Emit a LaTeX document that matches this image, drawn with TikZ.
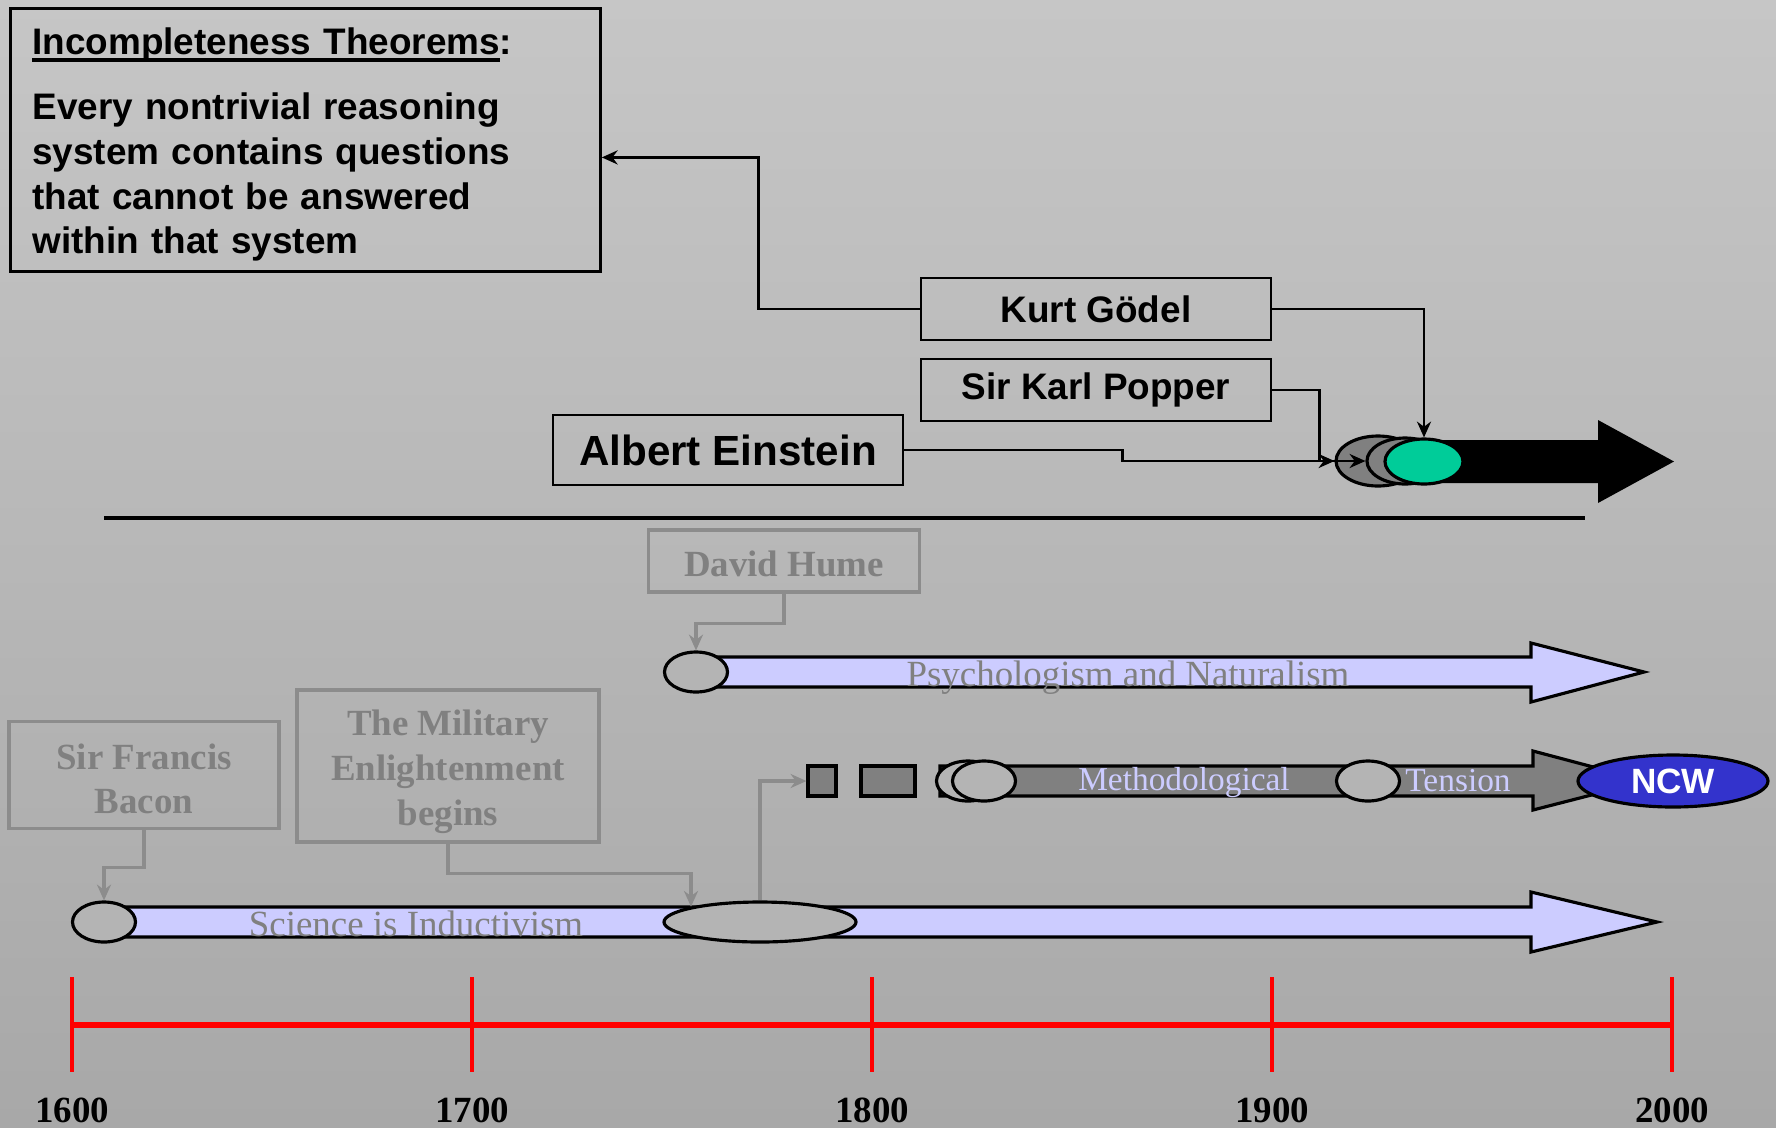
\documentclass[tikz,border=0pt]{standalone}
\usepackage{fontspec}
\setmainfont{Liberation Serif}
\setsansfont{Liberation Sans}
\usetikzlibrary{shapes.geometric,arrows.meta}
\newcommand\thmul[1]{\leavevmode\setbox0\hbox{#1}\rlap{\rule[-2.2pt]{\wd0}{1.1pt}}\box0}
\definecolor{bglight}{RGB}{198,198,198}
\definecolor{bgdark}{RGB}{168,168,168}
\definecolor{lav}{RGB}{204,204,255}
\definecolor{fade}{RGB}{128,128,128}
\definecolor{fadeline}{RGB}{140,140,140}
\definecolor{midgray}{RGB}{128,128,128}
\definecolor{blobgray}{RGB}{180,180,180}
\definecolor{mint}{RGB}{0,204,153}
\definecolor{ncwblue}{RGB}{51,51,204}
\tikzset{
  namebox/.style={draw, line width=.8pt, inner sep=0pt, minimum width=3.5cm, minimum height=.62cm,
    font=\sffamily\bfseries\fontsize{10.5}{12.7}\selectfont},
  oldbox/.style={draw=fadeline, line width=1pt, text=fade, align=center, inner sep=0pt,
    font=\bfseries\fontsize{10.5}{12.7}\selectfont},
  blob/.style={ellipse, draw, line width=.9pt, fill=blobgray, inner sep=0pt,
    minimum width=.63cm, minimum height=.4cm},
  link/.style={line width=.7pt, -{Stealth[length=4.5pt,width=4pt]}},
  oldlink/.style={link, draw=fadeline, line width=.9pt},
  bar/.style={draw, line width=.9pt, line join=miter},
}
\begin{document}
\begin{tikzpicture}[x=.1mm, y=-.1mm]
  \shade[top color=bglight, bottom color=bgdark] (0,0) rectangle (1776,1127);
  \useasboundingbox (0,0) rectangle (1776,1127);

  % the theorem
  \node[draw, line width=.8pt, anchor=north west, minimum height=2.63cm, text width=5.46cm,
    inner xsep=.22cm, inner ysep=0pt, align=left, font=\sffamily\bfseries\fontsize{10.5}{12.7}\selectfont]
    (theorem) at (9,7)
    {\rule{0pt}{10.1pt}\thmul{Incompleteness Theorems}:\\[6pt]
     Every nontrivial reasoning\\ system contains questions\\ that cannot be answered\\ within that system};

  % twentieth century
  \node[namebox] (godel) at (1096,309) {Kurt Gödel};
  \node[namebox] (popper) at (1096,390) {Sir Karl Popper};
  \node[namebox, minimum height=.7cm, font=\sffamily\bfseries\fontsize{12}{14}\selectfont]
    (einstein) at (728,450) {Albert Einstein};
  \fill (1424,440) -- (1598,440) -- (1598,420) -- (1674,461.5) -- (1598,503) -- (1598,483) -- (1424,483) -- cycle;
  \node[blob, fill=midgray, minimum width=.84cm, minimum height=.5cm] (dark1) at (1378,461) {};
  \node[blob, fill=midgray, minimum width=.76cm, minimum height=.46cm] (dark2) at (1405,461) {};
  \node[blob, fill=mint, minimum width=.78cm, minimum height=.45cm] (green) at (1424,461.5) {};
  \draw[link] (godel.west) -- ++(-161,0) |- ([yshift=-.175cm]theorem.east);
  \draw[link] (godel.east) -| (green.north);
  \draw[link] (popper.east) -| ([xshift=-.15cm]dark1.west) -- (dark1.west);
  \draw[link] (einstein.east) -- ++(218,0) |- (dark2.west);
  \draw[line width=1.4pt] (104,518) -- (1585,518);

  % Hume
  \draw[bar, fill=lav] (696,657) -- (1531,657) -- (1531,643) -- (1644,672) -- (1531,702) -- (1531,687) -- (696,687) -- cycle;
  \node[blob] (psyell) at (696,672) {};
  \node[text=fade, font=\fontsize{10.5}{12}\selectfont] (psytext) at (1128,678) {Psychologism and Naturalism};
  \node[oldbox, minimum width=2.71cm, minimum height=.62cm] (hume) at (784,561) {\rule{0pt}{9pt}David Hume};
  \draw[oldlink] (hume.south) -- ++(0,30) -| (psyell.north);

  % methodological tension
  \node[bar, fill=midgray, inner sep=0pt, minimum width=.28cm, minimum height=.3cm] (dash1) at (822,781) {};
  \node[bar, fill=midgray, inner sep=0pt, minimum width=.54cm, minimum height=.3cm] (dash2) at (888,781) {};
  \draw[bar, fill=midgray] (940,766) -- (1533,766) -- (1533,751) -- (1646,781) -- (1533,810) -- (1533,796) -- (940,796) -- cycle;
  \node[blob] (methback) at (968,781) {};
  \node[blob] (methfront) at (984,781) {};
  \node[blob] (tension) at (1368,781) {};
  \node[text=lav, font=\fontsize{9.5}{11}\selectfont] (methtext) at (1184,783) {Methodological};
  \node[text=lav, font=\fontsize{9.5}{11}\selectfont] (tentext) at (1458,781) {Tension};
  \node[blob, fill=ncwblue, minimum width=1.9cm, minimum height=.52cm, text=white,
    font=\sffamily\bfseries\fontsize{10}{12}\selectfont] (ncw) at (1673,781) {NCW};

  % Bacon and the military
  \draw[bar, fill=lav] (104,907) -- (1531,907) -- (1531,892) -- (1657,922) -- (1531,952) -- (1531,937) -- (104,937) -- cycle;
  \node[blob] (sciell) at (104,922) {};
  \node[blob, minimum width=1.92cm] (milell) at (760,922) {};
  \node[text=fade, font=\fontsize{10.5}{12}\selectfont] (scitext) at (416,924) {Science is Inductivism};
  \node[oldbox, minimum width=2.7cm, minimum height=1.07cm] (bacon) at (144,775) {\rule{0pt}{9.5pt}Sir Francis\\Bacon};
  \node[oldbox, minimum width=3.02cm, minimum height=1.52cm] (military) at (448,766) {\rule{0pt}{10.5pt}The Military\\Enlightenment\\begins};
  \draw[oldlink] (bacon.south) -- ++(0,37) -| (sciell.north);
  \draw[oldlink] (military.south) -- ++(0,30) -| (milell.north west);
  \draw[oldlink] (milell.north) |- (dash1.west);

  % time line
  \draw[red, line width=1.5pt] (72,1025) -- (1672,1025);
  \foreach \yr [count=\i from 0] in {1600,1700,1800,1900,2000} {
    \draw[red, line width=1pt] (72+400*\i,977) -- (72+400*\i,1072);
    \node[font=\bfseries\fontsize{10.5}{12}\selectfont] (yr\yr) at (72+400*\i,1110) {\yr};
  }
\end{tikzpicture}
\end{document}
